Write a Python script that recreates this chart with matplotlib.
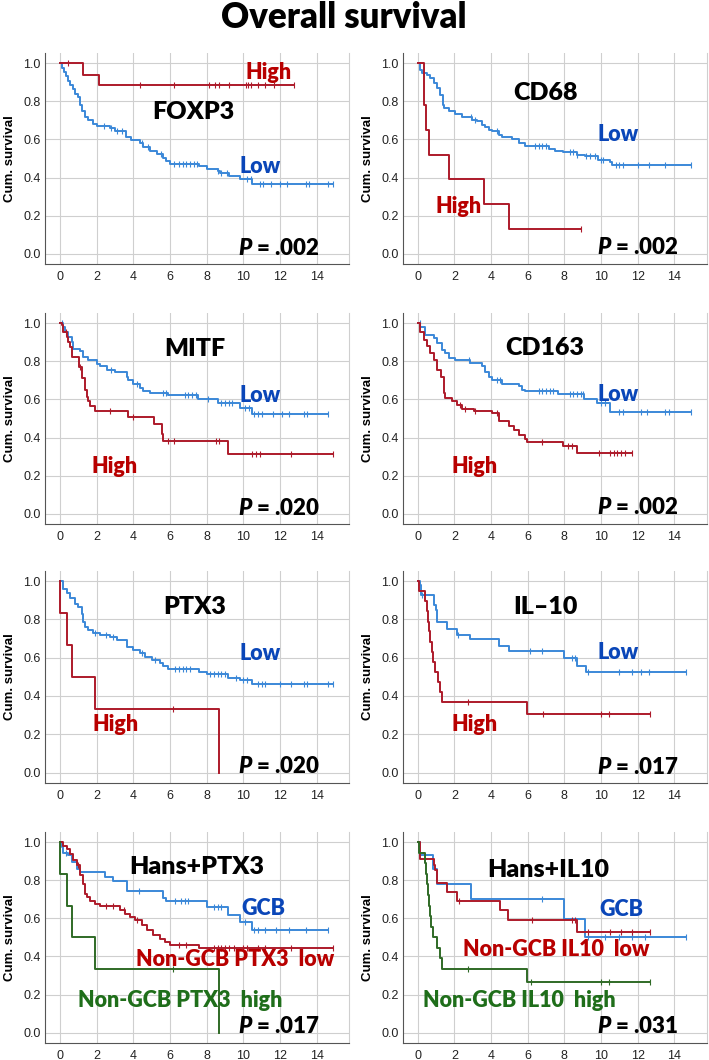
"""Overall survival: Kaplan-Meier curves for eight marker groupings (2 x 4 grid)."""
import numpy as np
import matplotlib
matplotlib.use("Agg")
import matplotlib.pyplot as plt

# ---- data: event times (years), survival after each event, censor times ----
foxp3_high_t = [1.27, 2.13]
foxp3_high_s = [0.94, 0.883]
foxp3_high_c = [0.45, 4.36, 6.2, 8.15, 8.45, 8.67, 9.2, 10.15, 10.24, 10.4, 10.8, 11.2, 11.7, 12.75]
foxp3_low_t = [0.1, 0.2, 0.3, 0.45, 0.55, 0.7, 0.8, 1.0, 1.1, 1.22, 1.36, 1.55, 1.8, 2.0, 2.7, 3.0,
               3.62, 3.9, 4.36, 4.55, 4.9, 5.27, 5.6, 5.8, 6.0, 7.6, 8.0, 8.6, 8.75, 9.2, 9.8, 10.5]
foxp3_low_s = [0.975, 0.955, 0.93, 0.905, 0.885, 0.865, 0.84, 0.82, 0.78, 0.75, 0.72, 0.70, 0.68, 0.668,
               0.661, 0.644, 0.613, 0.595, 0.58, 0.56, 0.54, 0.525, 0.50, 0.487, 0.473, 0.46, 0.447,
               0.435, 0.424, 0.407, 0.39, 0.365]
foxp3_low_c = [2.4, 2.8, 3.1, 3.4, 4.5, 4.8, 5.5, 6.2, 6.5, 6.7, 6.9, 7.1, 7.3, 7.5, 8.6, 8.8, 9.1,
               10.2, 10.4, 10.9, 11.1, 11.5, 12.0, 12.4, 13.4, 13.6, 14.6, 14.9]

cd68_high_t = [0.36, 0.47, 0.6, 1.69, 3.61, 4.96]
cd68_high_s = [0.778, 0.651, 0.52, 0.393, 0.264, 0.131]
cd68_high_c = [8.9]
cd68_low_t = [0.15, 0.24, 0.5, 0.69, 0.87, 1.05, 1.23, 1.36, 1.42, 1.69, 2.05, 2.42, 2.96, 3.23, 3.5,
              3.69, 3.87, 4.05, 4.41, 4.59, 5.14, 5.5, 5.87, 7.14, 7.5, 7.95, 8.68, 9.13, 9.86, 10.5, 10.6]
cd68_low_s = [0.965, 0.95, 0.94, 0.92, 0.895, 0.87, 0.834, 0.78, 0.764, 0.747, 0.735, 0.72, 0.703,
              0.695, 0.677, 0.665, 0.651, 0.642, 0.625, 0.613, 0.604, 0.581, 0.564, 0.551, 0.541,
              0.532, 0.52, 0.511, 0.494, 0.48, 0.468]
cd68_low_c = [2.9, 3.1, 4.3, 6.4, 6.6, 6.8, 7.0, 8.3, 8.5, 8.7, 9.2, 9.4, 9.7, 10.0, 10.1, 10.8, 11.0,
              11.2, 12.0, 12.6, 13.5, 14.9]

mitf_high_t = [0.09, 0.18, 0.36, 0.45, 0.55, 0.64, 1.04, 1.18, 1.36, 1.45, 1.55, 1.64, 1.91, 3.69,
               5.13, 5.55, 5.64, 9.18]
mitf_high_s = [0.988, 0.953, 0.927, 0.90, 0.876, 0.82, 0.77, 0.71, 0.647, 0.613, 0.59, 0.564, 0.539,
               0.508, 0.473, 0.42, 0.382, 0.316]
mitf_high_c = [0.3, 1.1, 2.7, 4.0, 5.9, 6.2, 8.5, 8.7, 10.5, 10.7, 10.9, 12.6, 14.9]
mitf_low_t = [0.18, 0.27, 0.45, 0.64, 0.73, 1.09, 1.27, 1.55, 2.0, 2.18, 2.55, 3.0, 3.64, 3.73, 4.0,
              4.36, 4.55, 4.91, 5.91, 7.55, 8.64, 9.82, 10.45]
mitf_low_s = [0.979, 0.953, 0.927, 0.90, 0.866, 0.853, 0.822, 0.805, 0.787, 0.773, 0.756, 0.743,
              0.72, 0.70, 0.679, 0.661, 0.644, 0.634, 0.621, 0.604, 0.581, 0.557, 0.525]
mitf_low_c = [0.1, 2.8, 4.2, 5.6, 5.8, 6.8, 7.0, 7.2, 7.4, 8.1, 8.8, 9.0, 9.2, 9.4, 10.1, 10.3, 10.6,
              10.8, 11.0, 11.6, 12.1, 12.5, 13.3, 13.5, 14.6]

cd163_high_t = [0.11, 0.33, 0.51, 0.69, 0.87, 1.05, 1.29, 1.42, 1.51, 1.87, 2.14, 2.42, 3.05, 4.05,
                4.41, 4.96, 5.23, 5.5, 5.87, 5.96, 7.95, 8.68]
cd163_high_s = [0.956, 0.913, 0.878, 0.843, 0.808, 0.756, 0.72, 0.634, 0.607, 0.59, 0.572, 0.55,
                0.538, 0.529, 0.485, 0.462, 0.438, 0.415, 0.39, 0.375, 0.354, 0.319]
cd163_high_c = [2.3, 2.6, 3.1, 4.3, 6.8, 8.2, 8.4, 9.9, 10.5, 10.7, 10.9, 11.1, 11.3, 11.7]
cd163_low_t = [0.15, 0.42, 0.87, 1.05, 1.33, 1.51, 1.69, 2.05, 2.87, 3.5, 3.69, 3.87, 4.05, 4.6,
               5.5, 5.68, 5.87, 7.68, 9.1, 9.77, 10.5]
cd163_low_s = [0.98, 0.94, 0.92, 0.895, 0.86, 0.843, 0.817, 0.805, 0.79, 0.773, 0.742, 0.72, 0.703,
               0.683, 0.668, 0.651, 0.642, 0.628, 0.602, 0.581, 0.532]
cd163_low_c = [0.1, 2.8, 4.3, 4.5, 6.6, 6.8, 7.0, 7.2, 7.4, 8.3, 8.5, 8.7, 8.9, 9.0, 10.0, 10.2,
               11.0, 11.2, 12.2, 12.5, 13.5, 13.7, 14.9]

ptx3_high_t = [0.02, 0.36, 0.64, 1.91, 8.69]
ptx3_high_s = [0.834, 0.667, 0.5, 0.334, 0.0]
ptx3_high_c = [6.18]
ptx3_low_t = [0.18, 0.36, 0.55, 0.82, 1.0, 1.18, 1.27, 1.36, 1.55, 1.82, 2.18, 2.73, 3.09, 3.64, 4.0,
              4.36, 4.64, 5.0, 5.45, 5.64, 5.91, 7.6, 8.0, 9.18, 9.82, 10.5]
ptx3_low_s = [0.96, 0.936, 0.91, 0.883, 0.866, 0.83, 0.787, 0.761, 0.744, 0.73, 0.718, 0.706, 0.692,
              0.657, 0.64, 0.622, 0.605, 0.59, 0.573, 0.556, 0.543, 0.526, 0.514, 0.496, 0.486, 0.462]
ptx3_low_c = [1.9, 2.5, 2.9, 4.5, 5.2, 6.3, 6.5, 6.7, 6.9, 7.1, 8.2, 8.4, 8.6, 8.8, 9.0, 9.6, 10.0,
              10.2, 10.8, 11.0, 11.2, 12.0, 12.6, 13.3, 13.5, 14.6, 14.9]

il10_high_t = [0.05, 0.38, 0.48, 0.55, 0.62, 0.69, 0.76, 0.82, 0.95, 1.09, 1.2, 1.33, 5.99]
il10_high_s = [0.947, 0.895, 0.842, 0.789, 0.737, 0.684, 0.632, 0.579, 0.526, 0.474, 0.421, 0.368, 0.307]
il10_high_c = [2.74, 6.86, 9.99, 10.46, 12.67]
il10_low_t = [0.11, 0.18, 0.87, 1.02, 1.05, 1.6, 2.14, 2.87, 4.45, 4.96, 8.0, 8.68, 9.17]
il10_low_s = [0.98, 0.927, 0.874, 0.848, 0.787, 0.752, 0.721, 0.696, 0.661, 0.633, 0.598, 0.555, 0.524]
il10_low_c = [0.25, 2.2, 6.1, 6.8, 8.4, 8.6, 9.3, 11.0, 11.7, 12.2, 12.6, 14.65]

hp_gcb_t = [0.09, 0.18, 0.45, 0.64, 0.91, 1.09, 2.45, 2.87, 3.64, 5.64, 5.78, 8.0, 9.18, 9.82, 10.5]
hp_gcb_s = [0.974, 0.942, 0.93, 0.895, 0.86, 0.843, 0.817, 0.796, 0.743, 0.709, 0.691, 0.66, 0.616,
            0.581, 0.537]
hp_gcb_c = [0.3, 4.3, 6.3, 6.6, 6.8, 7.0, 8.4, 8.6, 8.8, 10.1, 10.6, 10.8, 11.2, 11.8, 12.5, 13.4, 14.64]
hp_low_t = [0.18, 0.36, 0.55, 0.73, 0.91, 1.09, 1.24, 1.36, 1.45, 1.64, 1.91, 2.18, 3.27, 3.55, 3.82,
            4.09, 4.45, 4.73, 5.09, 5.45, 5.73, 6.0, 7.6]
hp_low_s = [0.982, 0.965, 0.939, 0.904, 0.878, 0.826, 0.782, 0.73, 0.71, 0.691, 0.677, 0.663, 0.642,
            0.625, 0.607, 0.59, 0.564, 0.538, 0.511, 0.489, 0.473, 0.459, 0.442]
hp_low_c = [1.0, 2.5, 2.9, 3.5, 4.2, 6.5, 6.9, 8.4, 8.6, 8.8, 9.0, 9.2, 9.5, 10.0, 10.2, 10.8, 11.2,
            12.6, 14.9]
hp_high_t = [0.02, 0.36, 0.64, 1.91, 8.69]
hp_high_s = [0.834, 0.667, 0.5, 0.334, 0.0]
hp_high_c = [6.18]

hi_gcb_t = [0.1, 0.82, 1.05, 2.92, 8.0, 9.13]
hi_gcb_s = [0.93, 0.86, 0.78, 0.703, 0.598, 0.503]
hi_gcb_c = [6.8, 9.3, 10.2, 11.0, 11.7, 12.4, 14.64]
hi_low_t = [0.11, 0.87, 0.96, 1.05, 1.6, 2.14, 4.47, 4.92, 8.68]
hi_low_s = [0.913, 0.878, 0.852, 0.785, 0.738, 0.69, 0.642, 0.59, 0.529]
hi_low_c = [2.27, 6.23, 8.4, 8.6, 9.3, 10.5, 11.1, 11.7, 12.67]
hi_high_t = [0.05, 0.4, 0.45, 0.5, 0.56, 0.62, 0.68, 0.75, 0.85, 1.05, 1.2, 1.33, 5.99]
hi_high_s = [0.944, 0.889, 0.833, 0.778, 0.722, 0.667, 0.611, 0.556, 0.5, 0.444, 0.389, 0.333, 0.267]
hi_high_c = [2.74, 6.2, 9.99, 10.46, 12.67]

panel_names = ["FOXP3", "CD68", "MITF", "CD163", "PTX3", "IL\u201310", "Hans+PTX3", "Hans+IL10"]
p_values = [".002", ".002", ".020", ".002", ".020", ".017", ".017", ".031"]
x_ticks = [0, 2, 4, 6, 8, 10, 12, 14]
y_ticks = [0.0, 0.2, 0.4, 0.6, 0.8, 1.0]

BLUE_LINE, BLUE_TXT = "#3b88d8", "#0a46b8"
RED_LINE, RED_TXT = "#ad1a2a", "#b80000"
GREEN_LINE, GREEN_TXT = "#2f6a26", "#1f6e1a"
LABEL_FONT = "Lato"
LABEL_WEIGHT = "heavy"

plt.rcParams["mathtext.fontset"] = "custom"
plt.rcParams["mathtext.it"] = "Lato:italic:heavy"
plt.rcParams["mathtext.rm"] = "Lato:heavy"

# curves per panel: (times, survival, censors, line colour)
curves = [
    [(foxp3_low_t, foxp3_low_s, foxp3_low_c, BLUE_LINE), (foxp3_high_t, foxp3_high_s, foxp3_high_c, RED_LINE)],
    [(cd68_low_t, cd68_low_s, cd68_low_c, BLUE_LINE), (cd68_high_t, cd68_high_s, cd68_high_c, RED_LINE)],
    [(mitf_low_t, mitf_low_s, mitf_low_c, BLUE_LINE), (mitf_high_t, mitf_high_s, mitf_high_c, RED_LINE)],
    [(cd163_low_t, cd163_low_s, cd163_low_c, BLUE_LINE), (cd163_high_t, cd163_high_s, cd163_high_c, RED_LINE)],
    [(ptx3_low_t, ptx3_low_s, ptx3_low_c, BLUE_LINE), (ptx3_high_t, ptx3_high_s, ptx3_high_c, RED_LINE)],
    [(il10_low_t, il10_low_s, il10_low_c, BLUE_LINE), (il10_high_t, il10_high_s, il10_high_c, RED_LINE)],
    [(hp_gcb_t, hp_gcb_s, hp_gcb_c, BLUE_LINE), (hp_low_t, hp_low_s, hp_low_c, RED_LINE),
     (hp_high_t, hp_high_s, hp_high_c, GREEN_LINE)],
    [(hi_gcb_t, hi_gcb_s, hi_gcb_c, BLUE_LINE), (hi_low_t, hi_low_s, hi_low_c, RED_LINE),
     (hi_high_t, hi_high_s, hi_high_c, GREEN_LINE)],
]

# text placement per panel (data coords): name, group labels, P value
name_pos = [(7.27, 0.743), (6.95, 0.843), (7.36, 0.866), (6.92, 0.869),
            (7.36, 0.866), (6.95, 0.866), (7.45, 0.869), (7.1, 0.852)]
group_labels = [
    [("High", 11.4, 0.953, RED_TXT), ("Low", 10.9, 0.459, BLUE_TXT)],
    [("Low", 10.95, 0.625, BLUE_TXT), ("High", 2.23, 0.25, RED_TXT)],
    [("Low", 10.9, 0.621, BLUE_TXT), ("High", 3.0, 0.249, RED_TXT)],
    [("Low", 10.95, 0.625, BLUE_TXT), ("High", 3.1, 0.251, RED_TXT)],
    [("Low", 10.9, 0.622, BLUE_TXT), ("High", 3.05, 0.253, RED_TXT)],
    [("Low", 10.95, 0.627, BLUE_TXT), ("High", 3.1, 0.251, RED_TXT)],
    [("GCB", 11.1, 0.651, BLUE_TXT), ("Non-GCB PTX3  low", 9.55, 0.384, RED_TXT),
     ("Non-GCB PTX3  high", 6.55, 0.166, GREEN_TXT)],
    [("GCB", 11.13, 0.646, BLUE_TXT), ("Non-GCB IL10  low", 7.54, 0.436, RED_TXT),
     ("Non-GCB IL10  high", 5.54, 0.168, GREEN_TXT)],
]
p_pos = [(11.96, 0.028), (12.0, 0.031), (11.96, 0.028), (12.0, 0.031),
         (11.96, 0.03), (12.0, 0.028), (11.96, 0.031), (12.0, 0.031)]


def km_curve(ax, t, s, cens, color):
    t = np.r_[0.0, t]
    s = np.r_[1.0, s]
    end = max(t[-1], max(cens))
    ax.step(np.r_[t, end], np.r_[s, s[-1]], where="post", color=color, lw=1.4, zorder=3)
    cy = s[np.searchsorted(t, cens, side="right") - 1]
    ax.plot(cens, cy, ls="none", marker="|", ms=4.5, mew=0.8, color=color, zorder=3)


W, H = 709, 1060
fig = plt.figure(figsize=(W / 100, H / 100), dpi=100)
fig.text(344 / W, 1 - 17 / H, "Overall survival", ha="center", va="center",
         fontsize=25, fontweight=LABEL_WEIGHT, family=LABEL_FONT)

col_left = [45, 402.7]
row_span = [(53, 264), (313, 524), (571, 782.7), (832, 1042.7)]
ax_w = 304

for i in range(8):
    r, c = divmod(i, 2)
    top, bot = row_span[r]
    ax = fig.add_axes([col_left[c] / W, 1 - bot / H, ax_w / W, (bot - top) / H])
    for t, s, cens, color in curves[i]:
        km_curve(ax, t, s, cens, color)

    ax.set_xlim(-0.82, 15.77)
    ax.set_ylim(-0.053, 1.053)
    ax.set_xticks(x_ticks)
    ax.set_yticks(y_ticks)
    ax.set_yticklabels([f"{v:.1f}" for v in y_ticks])
    ax.grid(True, color="#cfcfcf", lw=0.8, zorder=0)
    ax.set_axisbelow(True)
    ax.spines["top"].set_visible(False)
    ax.spines["right"].set_color("#cfcfcf")
    ax.spines["left"].set_color("#555555")
    ax.spines["bottom"].set_color("#555555")
    ax.tick_params(length=0, labelsize=9, colors="#222222")
    ax.tick_params(axis="y", pad=3)
    ax.tick_params(axis="x", pad=5)
    for lab in ax.get_xticklabels() + ax.get_yticklabels():
        lab.set_family("Liberation Sans")
    ax.set_ylabel("Cum. survival", fontsize=9.5, fontweight="bold", family="Liberation Sans")
    ax.yaxis.set_label_coords(-0.094, 0.5)

    nx, ny = name_pos[i]
    ax.text(nx, ny, panel_names[i], ha="center", va="center", fontsize=18,
            fontweight=LABEL_WEIGHT, family=LABEL_FONT, zorder=5)
    for txt, gx, gy, gc in group_labels[i]:
        ax.text(gx, gy, txt, ha="center", va="center", fontsize=15.5,
                fontweight=LABEL_WEIGHT, family=LABEL_FONT, color=gc, zorder=5)
    px, py = p_pos[i]
    ax.text(px, py, rf"$\mathit{{P}}$ = {p_values[i]}", ha="center", va="center",
            fontsize=16, fontweight=LABEL_WEIGHT, family=LABEL_FONT, zorder=5)

fig.savefig("out.png", dpi=100)
